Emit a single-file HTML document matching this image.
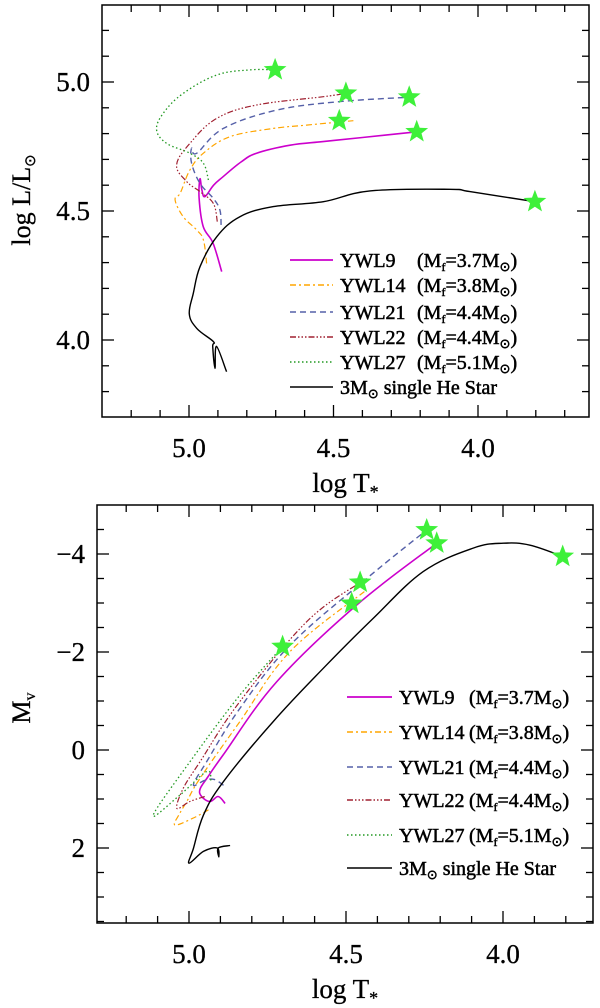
<!DOCTYPE html>
<html><head><meta charset="utf-8"><style>
body{margin:0;background:#fff;}
svg{display:block;font-family:"Liberation Serif",serif;}
</style></head><body>
<svg id="chart" width="600" height="1008" viewBox="0 0 600 1008"></svg>
<script>
// ---- data (log T, log L) top panel ----
const topYWL9=[[4.887,4.265],[4.917,4.376],[4.951,4.44],[4.965,4.55],[4.962,4.625],[4.955,4.58],[4.945,4.556],[4.915,4.60],[4.882,4.633],[4.82,4.69],[4.766,4.724],[4.65,4.755],[4.536,4.769],[4.40,4.785],[4.212,4.807]];
const topYWL14=[[4.939,4.297],[4.95,4.388],[4.973,4.426],[5.02,4.478],[5.048,4.543],[5.03,4.57],[4.997,4.659],[4.95,4.724],[4.858,4.788],[4.708,4.82],[4.593,4.833],[4.431,4.85]];
const topYWL21=[[4.889,4.446],[4.893,4.504],[4.916,4.549],[4.962,4.607],[4.991,4.685],[4.991,4.743],[4.973,4.724],[4.881,4.82],[4.697,4.891],[4.478,4.924],[4.238,4.941]];
const topYWL22=[[4.902,4.459],[4.916,4.53],[4.962,4.575],[5.008,4.614],[5.043,4.678],[4.997,4.762],[4.904,4.859],[4.766,4.911],[4.535,4.943],[4.457,4.956]];
const topYWL27=[[4.933,4.62],[4.95,4.685],[4.997,4.724],[5.077,4.762],[5.112,4.814],[5.089,4.879],[5.02,4.956],[4.904,5.027],[4.789,5.047],[4.702,5.047]];
const topHe=[[4.870,3.877],[4.905,3.975],[4.91,3.89],[4.918,3.975],[4.916,3.994],[4.973,4.045],[4.999,4.101],[4.985,4.181],[4.962,4.284],[4.904,4.40],[4.824,4.478],[4.708,4.517],[4.535,4.536],[4.374,4.578],[4.097,4.584],[4.028,4.575],[3.803,4.536]];
const topStars=[[4.702,5.047],[4.457,4.956],[4.238,4.941],[4.480,4.850],[4.212,4.807],[3.803,4.536]];
// ---- data (log T, Mv) bottom panel ----
const botYWL9=[[4.885,1.09],[4.907,0.95],[4.933,1.05],[4.96,0.95],[4.965,0.80],[4.94,0.55],[4.891,0.10],[4.721,-1.39],[4.466,-2.96],[4.211,-4.22]];
const botYWL14=[[4.938,1.22],[4.99,1.4],[5.045,1.53],[5.03,1.3],[5.007,1.05],[4.965,0.58],[4.838,-0.58],[4.678,-2.01],[4.434,-3.27]];
const botYWL21=[[4.89,0.72],[4.92,0.6],[4.95,0.62],[4.986,0.71],[4.944,0.24],[4.838,-0.85],[4.678,-2.14],[4.434,-3.50],[4.243,-4.49]];
const botYWL22=[[4.95,0.95],[4.997,1.05],[5.039,1.19],[5.018,0.78],[4.965,0.24],[4.838,-0.99],[4.625,-2.62],[4.455,-3.42]];
const botYWL27=[[4.93,0.62],[4.944,0.44],[5.029,0.92],[5.114,1.33],[4.997,0.24],[4.838,-1.12],[4.702,-2.11]];
const botHe=[[4.869,1.95],[4.907,2.0],[4.905,2.18],[4.91,2.0],[4.954,2.07],[5.0,2.31],[4.986,2.01],[4.954,1.33],[4.891,0.65],[4.732,-0.58],[4.572,-1.67],[4.413,-2.69],[4.254,-3.64],[4.095,-4.12],[3.999,-4.22],[3.914,-4.18],[3.81,-3.95]];
const botStars=[[4.243,-4.49],[4.211,-4.22],[4.455,-3.42],[4.482,-2.99],[4.702,-2.11],[3.81,-3.95]];
// ticks
const xTickLabels=["5.0","4.5","4.0"];
const yTopTickLabels=["5.0","4.5","4.0"];
const yBotTickLabels=["-4","-2","0","2"];
const legendNames=["YWL9","YWL14","YWL21","YWL22","YWL27"];
const legendMasses=["3.7","3.8","4.4","4.4","5.1"];

const NS="http://www.w3.org/2000/svg";
const svg=document.getElementById('chart');
function mk(tag,attrs,parent){const e=document.createElementNS(NS,tag);for(const k in attrs)e.setAttribute(k,attrs[k]);(parent||svg).appendChild(e);return e;}

const styles=[
 {c:"#cc00cc",d:"",w:1.6},
 {c:"#ffa500",d:"6 3 2 3",w:1.2},
 {c:"#5560a8",d:"6 4",w:1.4},
 {c:"#a02030",d:"6 2 1.5 2 1.5 2 1.5 2",w:1.2},
 {c:"#229922",d:"1.5 2.5",w:1.3},
 {c:"#000",d:"",w:1.4}
];

function smooth(pts){
 if(pts.length<3)return "M"+pts.map(p=>p.join(",")).join("L");
 let d="M"+pts[0][0].toFixed(1)+","+pts[0][1].toFixed(1);
 for(let i=0;i<pts.length-1;i++){
  const p0=pts[i-1]||pts[i],p1=pts[i],p2=pts[i+1],p3=pts[i+2]||p2;
  const t=0.18;
  const c1=[p1[0]+(p2[0]-p0[0])*t,p1[1]+(p2[1]-p0[1])*t];
  const c2=[p2[0]-(p3[0]-p1[0])*t,p2[1]-(p3[1]-p1[1])*t];
  d+="C"+c1[0].toFixed(1)+","+c1[1].toFixed(1)+" "+c2[0].toFixed(1)+","+c2[1].toFixed(1)+" "+p2[0].toFixed(1)+","+p2[1].toFixed(1);
 }
 return d;
}

function starPath(cx,cy,R){const r=R*0.42;let p="";for(let i=0;i<10;i++){const a=-Math.PI/2+i*Math.PI/5;const rr=i%2?r:R;p+=(i?"L":"M")+(cx+rr*Math.cos(a)).toFixed(1)+","+(cy+rr*Math.sin(a)).toFixed(1);}return p+"Z";}

function panel(o){
 const g=mk('g',{});
 
 
 const X=v=>o.x0+(o.xa-v)*o.xs;
 const Y=v=>o.y0+(v-o.ya)*o.ys;
 const box=mk('rect',{x:o.L,y:o.T,width:o.R-o.L,height:o.B-o.T,fill:"none",stroke:"#000","stroke-width":1.5},g);
 
 
 for(let v=5.3;v>=3.6;v-=0.1){const t=Math.round(v*10)/10;const px=X(t);if(px<o.L+1||px>o.R-1)continue;const maj=Math.abs(t*2-Math.round(t*2))<1e-6;const len=maj?12:7;
  mk('line',{x1:px,y1:o.B,x2:px,y2:o.B-len,stroke:"#000","stroke-width":1.3},g);
  mk('line',{x1:px,y1:o.T,x2:px,y2:o.T+len,stroke:"#000","stroke-width":1.3},g);}
 xTickLabels.forEach(s=>{const t=mk('text',{x:X(parseFloat(s)),y:o.B+40,"font-size":27,"text-anchor":"middle",stroke:"#000","stroke-width":0.3},g);t.textContent=s;
  
  });
 const xt=mk('text',{x:(o.L+o.R)/2,y:o.B+75,"font-size":27,"text-anchor":"middle",stroke:"#000","stroke-width":0.3},g);
 xt.innerHTML='log T<tspan font-size="18" dy="6">*</tspan>';
 
 
 for(let k=0;k<=80;k++){const v=o.yStart+k*o.yMinor;const py=Y(v);if(py<o.T+1||py>o.B-1)continue;const maj=Math.abs(v/o.yMajor-Math.round(v/o.yMajor))<1e-6;const len=maj?12:7;
  mk('line',{x1:o.L,y1:py,x2:o.L+len,y2:py,stroke:"#000","stroke-width":1.3},g);
  mk('line',{x1:o.R,y1:py,x2:o.R-len,y2:py,stroke:"#000","stroke-width":1.3},g);}
 o.yLabels.forEach(s=>{const t=mk('text',{x:o.L-12,y:Y(parseFloat(s))+9,"font-size":27,"text-anchor":"end",stroke:"#000","stroke-width":0.3},g);t.textContent=s.replace('-','\u2212');
  
  });
 const yt=mk('text',{transform:`translate(${o.ylx},${o.yly}) rotate(-90)`,"font-size":26,"text-anchor":"middle",stroke:"#000","stroke-width":0.3},g);
 yt.innerHTML=o.ytitle;
 
 
 const names=["ywl9","ywl14","ywl21","ywl22","ywl27","single-he-star"];
 o.series.forEach((s,i)=>{const st=styles[i];
  const p=mk('path',{d:smooth(s.map(q=>[X(q[0]),Y(q[1])])),fill:"none",stroke:st.c,"stroke-width":st.w,"stroke-dasharray":st.d,"stroke-linejoin":"round"},g);
  
  });
 o.stars.forEach(s=>{const p=mk('path',{d:starPath(X(s[0]),Y(s[1]),12),fill:"#3ef03a"},g);
  
  });
 for(let i=0;i<6;i++){const st=styles[i];const ly=o.legY[i];
  const ln=mk('line',{x1:o.legX,y1:ly,x2:o.legX+o.legW,y2:ly,stroke:st.c,"stroke-width":st.w+0.2,"stroke-dasharray":st.d},g);
  
  
  const t=mk('text',{x:o.legX+o.legW+7,y:ly+7,"font-size":20,stroke:"#000","stroke-width":0.5},g);
  if(i<5){t.innerHTML=legendNames[i]+'<tspan x="'+(o.legX+o.legW+7+o.parOff)+'">(M<tspan font-size="12" dy="4">f</tspan><tspan dy="-4">=</tspan>'+legendMasses[i]+'M<tspan font-size="13" dy="4">\u2299</tspan><tspan dy="-4">)</tspan></tspan>';}
  else{t.innerHTML='3M<tspan font-size="13" dy="4">\u2299</tspan><tspan dy="-4"> single He Star</tspan>';}
  
  }
}

panel({name:"top-panel-luminosity",L:102,R:589,T:5,B:417,x0:189,xa:5.0,xs:289,y0:82,ya:5.0,ys:-258,
 yStart:3.7,yMinor:0.1,yMajor:0.5,yLabels:yTopTickLabels,ylx:30,yly:200,
 ytitle:'log L/L<tspan font-size="15" dy="5">\u2299</tspan>',
 series:[topYWL9,topYWL14,topYWL21,topYWL22,topYWL27,topHe],stars:topStars,
 legX:290,legW:43,parOff:77,legY:[260,285,312,337,362,387]});
panel({name:"bottom-panel-magnitude",L:97,R:593,T:505,B:923,x0:189,xa:5.0,xs:314,y0:750,ya:0,ys:49,
 yStart:-5,yMinor:0.5,yMajor:2,yLabels:yBotTickLabels,ylx:30,yly:708,
 ytitle:'M<tspan font-size="16" dy="5">v</tspan>',
 series:[botYWL9,botYWL14,botYWL21,botYWL22,botYWL27,botHe],stars:botStars,
 legX:347,legW:45,parOff:70,legY:[697,732,767,800,835,868]});
</script>
</body></html>
